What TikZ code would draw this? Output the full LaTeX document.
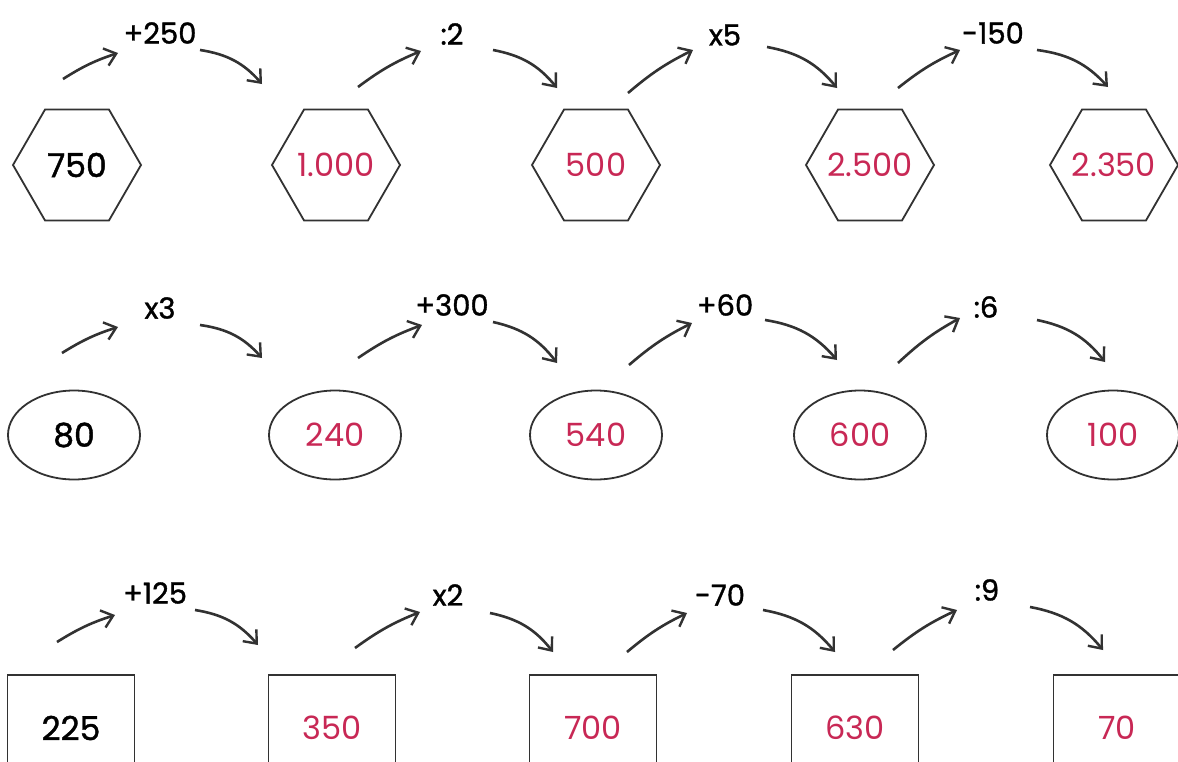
\documentclass[tikz,border=0pt]{standalone}
\usepackage{fontspec}
\setmainfont{Poppins}
\newfontfamily\opfont{Poppins}[FakeBold=1.2]
\usetikzlibrary{shapes.geometric,arrows.meta}
\definecolor{ink}{RGB}{50,50,50}
\definecolor{hand}{RGB}{200,40,85}
\newcommand{\fixw}[1]{\makebox[60pt]{#1}}
\begin{document}
\begin{tikzpicture}[x=1pt,y=-1pt,
  shp/.style={draw=ink,line width=1.8pt,inner sep=0pt,font=\fontsize{32}{32}\selectfont},
  hex/.style={shp,regular polygon,regular polygon sides=6,minimum size=128pt},
  ell/.style={shp,ellipse,minimum width=132pt,minimum height=89pt},
  box/.style={shp,rectangle,minimum width=127pt,minimum height=106pt},
  given/.style={text=black,font=\opfont\fontsize{33}{33}\selectfont},
  ans/.style={text=hand},
  op/.style={font=\opfont\fontsize{29}{29}\selectfont,inner sep=1pt,text=black},
  arr/.style={draw=ink,line width=2.6pt,-{Straight Barb[length=11pt,width=18pt,line width=2.4pt]}},
  uparr/.style={arr,bend left=7},
  dnarr/.style={arr,bend left=20}]
\clip (0,0) rectangle (1178,761);
\fill[white] (0,0) rectangle (1178,761);
% row 1: hexagons
\node[hex,given] (h1) at (77,165) {\fixw{750}};
\node[hex,ans] (h2) at (336,165) {\fixw{1.000}};
\node[hex,ans] (h3) at (596,165) {\fixw{500}};
\node[hex,ans] (h4) at (870,165) {\fixw{2.500}};
\node[hex,ans] (h5) at (1114,165) {\fixw{2.350}};
% row 2: ellipses
\node[ell,given] (e1) at (74,435) {80};
\node[ell,ans] (e2) at (335,435) {240};
\node[ell,ans] (e3) at (596,435) {540};
\node[ell,ans] (e4) at (860,435) {600};
\node[ell,ans] (e5) at (1113,435) {100};
% row 3: boxes
\node[box,given] (b1) at (71,728) {225};
\node[box,ans] (b2) at (332,728) {350};
\node[box,ans] (b3) at (593,728) {700};
\node[box,ans] (b4) at (855,728) {630};
\node[box,ans] (b5) at (1117,728) {70};
% operations
\foreach \n/\ax/\ay/\bx/\by/\lx/\ly/\t/\cx/\cy/\dx/\dy in {
  a1/63/79/118/53/160/33/+250/200/50/262/84,
  a2/358/87/421/51/452/34/:2/493/50/557/88,
  a3/628/93/693/50/725/35/x5/767/47/837/88,
  a4/898/88/960/50/993/33/-150/1037/50/1108/87,
  c1/62/353/118/327/160/308/x3/200/325/262/358,
  c2/358/358/422/325/452/305/+300/493/322/557/363,
  c3/629/365/692/323/725/305/+60/765/320/837/360,
  c4/898/363/960/318/986/307/:6/1037/320/1105/362,
  r1/57/642/115/615/155/593/+125/195/610/258/645,
  r2/355/648/420/612/448/595/x2/490/613/553/652,
  r3/627/652/687/613/720/595/-70/763/610/835/652,
  r4/893/650/957/610/987/590/:9/1030/607/1103/650}
{
  \coordinate (u\n s) at (\ax,\ay);
  \coordinate (u\n e) at (\bx,\by);
  \node[op] (l\n) at (\lx,\ly) {\t};
  \coordinate (d\n s) at (\cx,\cy);
  \coordinate (d\n e) at (\dx,\dy);
  \draw[uparr] (u\n s) to (u\n e);
  \draw[dnarr] (d\n s) to (d\n e);
}
\end{tikzpicture}
\end{document}
